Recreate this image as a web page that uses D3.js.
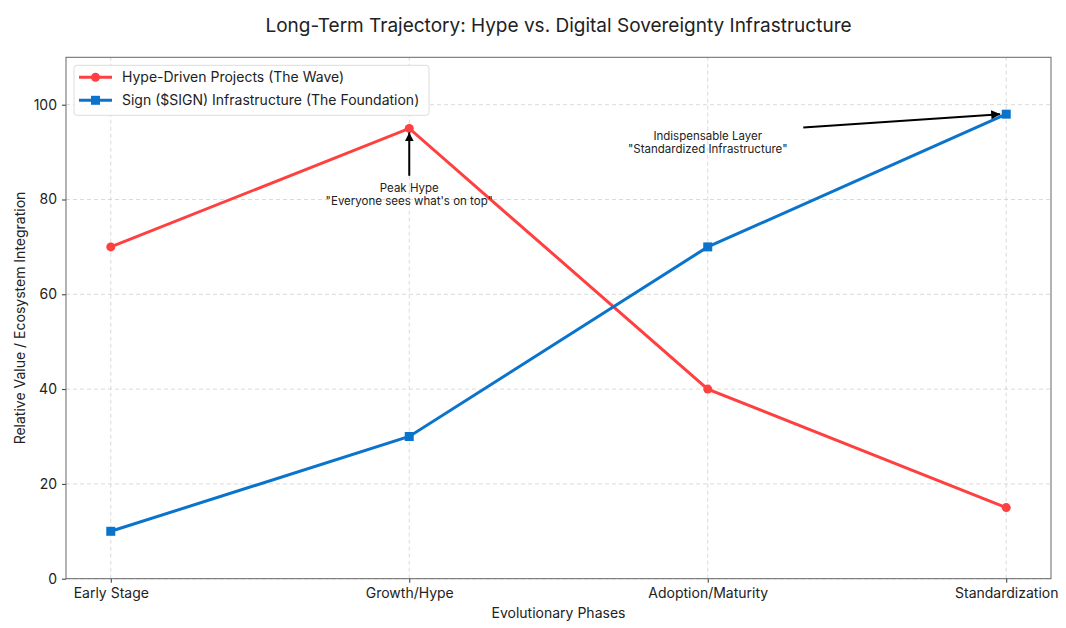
<!DOCTYPE html>
<html>
<head>
<meta charset="utf-8">
<script src="https://cdn.jsdelivr.net/npm/d3@7"></script>
<style>
  body { margin: 0; background: #fff; }
  text { font-family: Inter, "Open Sans", sans-serif; fill: #222; }
</style>
</head>
<body>
<div id="chart"></div>
<script>
// Data
const phases = ["Early Stage", "Growth/Hype", "Adoption/Maturity", "Standardization"];
const hypeValues = [70, 95, 40, 15];
const signValues = [10, 30, 70, 98];
const yTicks = [0, 20, 40, 60, 80, 100];

const width = 1066, height = 628;
const margin = { left: 66, right: 15, top: 57.3, bottom: 49.3 };

const svg = d3.select("#chart").append("svg")
  .attr("width", width)
  .attr("height", height);

const x = d3.scaleLinear().domain([-0.15, 3.15]).range([margin.left, width - margin.right]);
const y = d3.scaleLinear().domain([0, 110]).range([height - margin.bottom, margin.top]);

// Grid
svg.append("g").selectAll("line").data(phases).join("line")
  .attr("x1", (d, i) => x(i)).attr("x2", (d, i) => x(i))
  .attr("y1", y(0)).attr("y2", y(110))
  .attr("stroke", "#d0d0d0").attr("stroke-dasharray", "4,3").attr("stroke-width", 0.8);
svg.append("g").selectAll("line").data(yTicks).join("line")
  .attr("x1", x(-0.15)).attr("x2", x(3.15))
  .attr("y1", d => y(d)).attr("y2", d => y(d))
  .attr("stroke", "#d0d0d0").attr("stroke-dasharray", "4,3").attr("stroke-width", 0.8);

// Axes
const xAxis = svg.append("g")
  .attr("transform", `translate(0,${y(0)})`)
  .call(d3.axisBottom(x).tickValues([0, 1, 2, 3]).tickFormat(i => phases[i]).tickSize(4).tickPadding(5));
const yAxis = svg.append("g")
  .attr("transform", `translate(${x(-0.15)},0)`)
  .call(d3.axisLeft(y).tickValues(yTicks).tickSize(4).tickPadding(5));
[xAxis, yAxis].forEach(g => {
  g.select(".domain").remove();
  g.selectAll("line").attr("stroke", "#333");
  g.selectAll("text").attr("font-size", 14).style("fill", "#222");
});

// Frame
svg.append("rect")
  .attr("x", x(-0.15)).attr("y", y(110))
  .attr("width", x(3.15) - x(-0.15)).attr("height", y(0) - y(110))
  .attr("fill", "none").attr("stroke", "#666").attr("stroke-width", 1);

// Lines
const line = d3.line().x((d, i) => x(i)).y(d => y(d));
const red = "#ff4040", blue = "#0a74cc";

svg.append("path").datum(hypeValues).attr("d", line)
  .attr("fill", "none").attr("stroke", red).attr("stroke-width", 3);
svg.append("g").selectAll("circle").data(hypeValues).join("circle")
  .attr("cx", (d, i) => x(i)).attr("cy", d => y(d)).attr("r", 4.5).attr("fill", red);

svg.append("path").datum(signValues).attr("d", line)
  .attr("fill", "none").attr("stroke", blue).attr("stroke-width", 3);
svg.append("g").selectAll("rect").data(signValues).join("rect")
  .attr("x", (d, i) => x(i) - 4.5).attr("y", d => y(d) - 4.5)
  .attr("width", 9).attr("height", 9).attr("fill", blue);

// Annotations
svg.append("defs").append("marker")
  .attr("id", "arrow").attr("viewBox", "0 0 10 10")
  .attr("refX", 10).attr("refY", 5)
  .attr("markerWidth", 9).attr("markerHeight", 9)
  .attr("markerUnits", "userSpaceOnUse")
  .attr("orient", "auto")
  .append("path").attr("d", "M0,0 L10,5 L0,10 z").attr("fill", "#000");

function annotate(tx, ty, px, py, lines, ax, ay) {
  svg.append("line")
    .attr("x1", ax).attr("y1", ay).attr("x2", px).attr("y2", py)
    .attr("stroke", "#000").attr("stroke-width", 2)
    .attr("marker-end", "url(#arrow)");
  const t = svg.append("text").attr("text-anchor", "middle").attr("font-size", 11.5);
  lines.forEach((l, k) => {
    t.append("tspan").attr("x", tx).attr("y", ty + k * 13).text(l);
  });
}
annotate(x(1), y(81.5), x(1), y(95) + 4, 
  ["Peak Hype", "\"Everyone sees what's on top\""], x(1), y(85));
annotate(x(2), y(92.5), x(3) - 6, y(98),
  ["Indispensable Layer", "\"Standardized Infrastructure\""], x(2.32), y(95.2));

// Legend
const lg = svg.append("g").attr("transform", `translate(${x(-0.15) + 8},${y(110) + 8})`);
lg.append("rect").attr("width", 355).attr("height", 50).attr("rx", 3)
  .attr("fill", "#fff").attr("fill-opacity", 0.85).attr("stroke", "#ddd");
const items = [
  { label: "Hype-Driven Projects (The Wave)", color: red, shape: "circle" },
  { label: "Sign ($SIGN) Infrastructure (The Foundation)", color: blue, shape: "square" }
];
items.forEach((it, k) => {
  const gy = 12 + k * 23;
  lg.append("line").attr("x1", 5).attr("x2", 38).attr("y1", gy).attr("y2", gy)
    .attr("stroke", it.color).attr("stroke-width", 3);
  if (it.shape === "circle") {
    lg.append("circle").attr("cx", 21.5).attr("cy", gy).attr("r", 4.5).attr("fill", it.color);
  } else {
    lg.append("rect").attr("x", 17).attr("y", gy - 4.5).attr("width", 9).attr("height", 9).attr("fill", it.color);
  }
  lg.append("text").attr("x", 48).attr("y", gy + 5).attr("font-size", 14).text(it.label);
});

// Titles
svg.append("text").attr("x", (x(-0.15) + x(3.15)) / 2).attr("y", 32)
  .attr("text-anchor", "middle").attr("font-size", 19).text("Long-Term Trajectory: Hype vs. Digital Sovereignty Infrastructure");
svg.append("text").attr("x", (x(-0.15) + x(3.15)) / 2).attr("y", 618)
  .attr("text-anchor", "middle").attr("font-size", 14).text("Evolutionary Phases");
svg.append("text")
  .attr("transform", `translate(25,${(y(0) + y(110)) / 2}) rotate(-90)`)
  .attr("text-anchor", "middle").attr("font-size", 14).text("Relative Value / Ecosystem Integration");
</script>
</body>
</html>
